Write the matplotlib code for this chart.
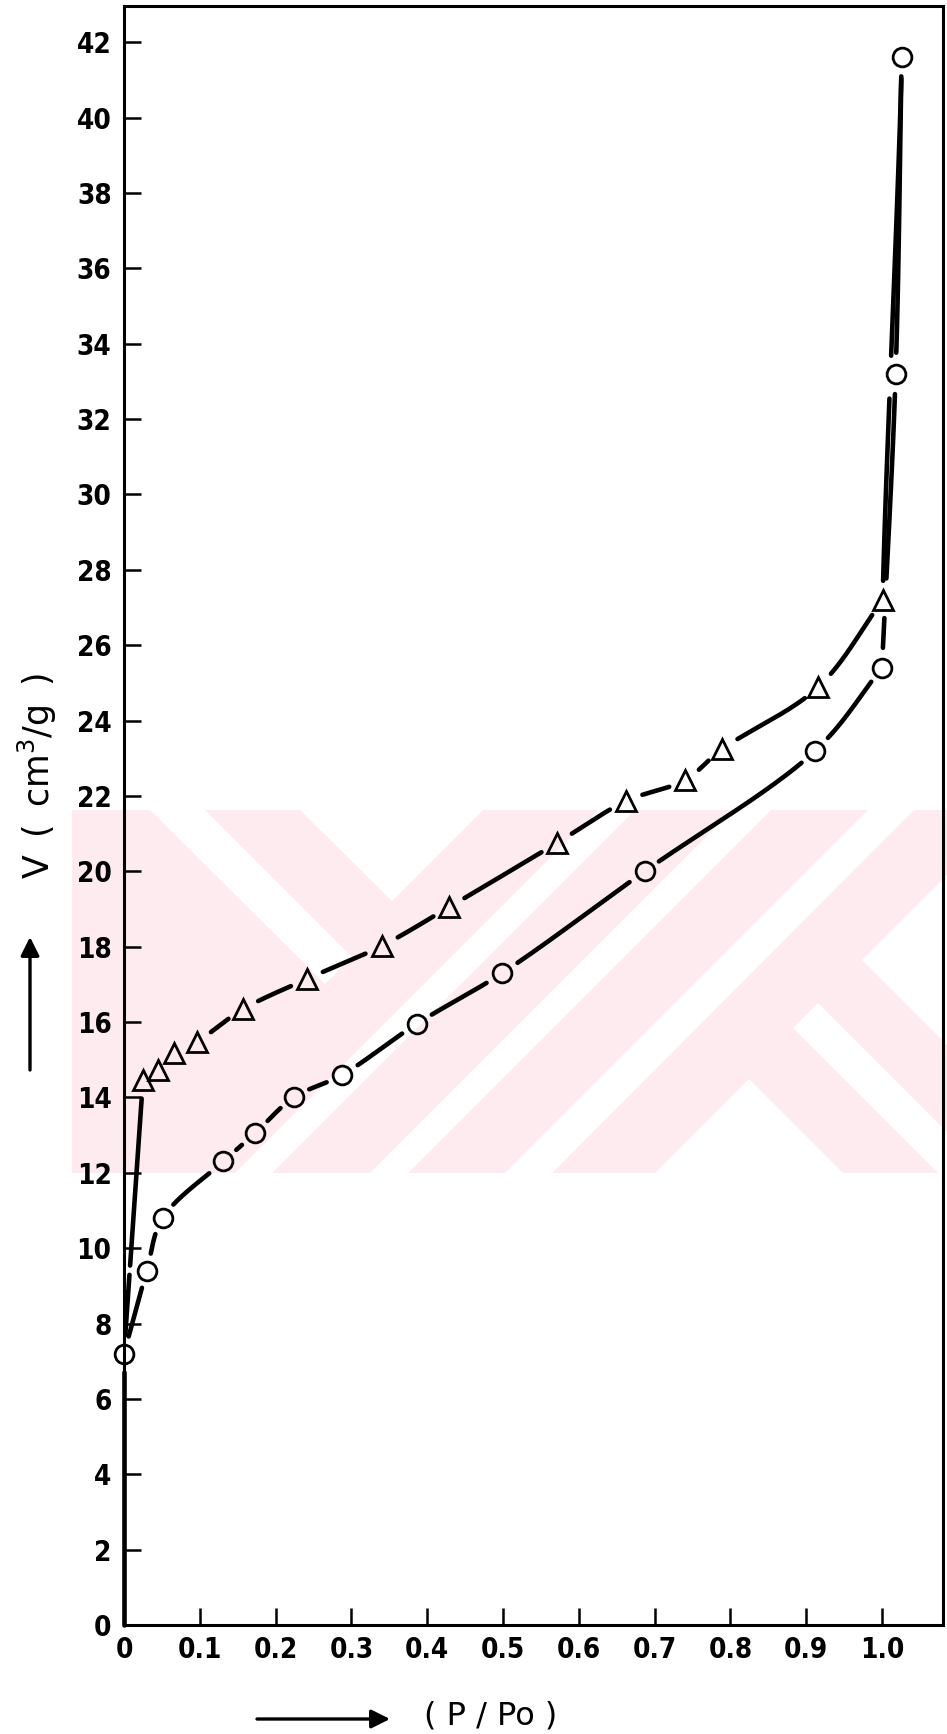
import numpy as np
import matplotlib
matplotlib.use('Agg')
import matplotlib.pyplot as plt
from matplotlib.patches import Polygon, Rectangle

# adsorption branch (open circles)
ads_x = [0.0, 0.030, 0.051, 0.131, 0.173, 0.224, 0.288, 0.386, 0.499,
         0.687, 0.912, 1.000, 1.018, 1.026]
ads_y = [7.2, 9.4, 10.8, 12.3, 13.05, 14.0, 14.6, 15.95, 17.3,
         20.0, 23.2, 25.4, 33.2, 41.6]

# desorption branch (open triangles)
des_x = [0.025, 0.045, 0.066, 0.096, 0.157, 0.241, 0.340, 0.429, 0.571,
         0.662, 0.740, 0.789, 0.916, 1.001]
des_y = [14.46, 14.73, 15.17, 15.47, 16.34, 17.14, 18.02, 19.05, 20.75,
         21.86, 22.42, 23.24, 24.89, 27.2]

x_ticks = [0, 0.1, 0.2, 0.3, 0.4, 0.5, 0.6, 0.7, 0.8, 0.9, 1.0]
x_tick_labels = ['0', '0.1', '0.2', '0.3', '0.4', '0.5', '0.6', '0.7',
                 '0.8', '0.9', '1.0']
y_ticks = list(range(0, 43, 2))
y_tick_labels = [str(v) for v in y_ticks]

plt.rcParams['font.family'] = ['DejaVu Sans']

fig = plt.figure(figsize=(9.47, 17.34), dpi=100)

# page layer in pixel units (watermark, arrows)
bg = fig.add_axes([0, 0, 1, 1], zorder=0)
bg.set_xlim(0, 947)
bg.set_ylim(1734, 0)
bg.axis('off')

pink = '#fdebef'
bg.add_patch(Rectangle((72, 810), 875, 363, color=pink, lw=0))
white_parts = [
    [(300, 810), (483, 810), (392, 901)],
    [(505, 1173), (552, 1173), (914, 810), (868, 810)],
    [(370, 1173), (408, 1173), (771, 810), (733, 810)],
    [(235, 1173), (272, 1173), (635, 810), (598, 810)],
    [(655, 1173), (843, 1173), (749, 1079)],
    [(862, 960), (947, 875), (947, 1045)],
    [(793, 1028), (818, 1003), (947, 1132), (947, 1173), (938, 1173)],
    [(150, 810), (205, 810), (352, 957), (325, 984)],
]
for pts in white_parts:
    bg.add_patch(Polygon(pts, closed=True, color='white', lw=0))

ax = fig.add_axes([124 / 947, 109 / 1734, 819 / 947, 1619 / 1734], zorder=1)
ax.patch.set_alpha(0)
ax.set_xlim(0, 1.0805)
ax.set_ylim(0, 42.96)

for s in ax.spines.values():
    s.set_linewidth(2.2)

ax.set_xticks(x_ticks, labels=x_tick_labels, fontsize=20, fontweight='bold',
              fontstretch='condensed')
ax.set_yticks(y_ticks, labels=y_tick_labels, fontsize=20, fontweight='bold',
              fontstretch='condensed')
ax.tick_params(direction='in', length=12, width=1.8)
ax.tick_params(axis='x', pad=8)
ax.tick_params(axis='y', pad=9)


def catmull_rom(pts, head=None, tail=None, n=60):
    pts = np.asarray(pts, dtype=float)
    if head is None:
        head = 2 * pts[0] - pts[1]
    if tail is None:
        tail = 2 * pts[-1] - pts[-2]
    p = np.vstack([head, pts, tail])
    out = []
    for i in range(1, len(p) - 2):
        p0, p1, p2, p3 = p[i - 1], p[i], p[i + 1], p[i + 2]
        t0 = 0.0
        t1 = t0 + np.linalg.norm(p1 - p0) ** 0.5
        t2 = t1 + np.linalg.norm(p2 - p1) ** 0.5
        t3 = t2 + np.linalg.norm(p3 - p2) ** 0.5
        t = np.linspace(t1, t2, n)[:, None]
        a1 = (t1 - t) / (t1 - t0) * p0 + (t - t0) / (t1 - t0) * p1
        a2 = (t2 - t) / (t2 - t1) * p1 + (t - t1) / (t2 - t1) * p2
        a3 = (t3 - t) / (t3 - t2) * p2 + (t - t2) / (t3 - t2) * p3
        b1 = (t2 - t) / (t2 - t0) * a1 + (t - t0) / (t2 - t0) * a2
        b2 = (t3 - t) / (t3 - t1) * a2 + (t - t1) / (t3 - t1) * a3
        out.append((t2 - t) / (t2 - t1) * b1 + (t - t1) / (t2 - t1) * b2)
    return np.vstack(out)


trans = ax.transData
marks = trans.transform(np.column_stack([ads_x + des_x, ads_y + des_y]))


def draw_piece(xs, ys, vertical_ends=False, gap=17):
    # smooth in pixel space, then cut the line open around every marker
    disp = trans.transform(np.column_stack([xs, ys]))
    head = tail = None
    if vertical_ends:
        head = disp[0] - [0, 120]
        tail = disp[-1] + [0, 120]
    curve = catmull_rom(disp, head, tail)
    d = np.min(np.hypot(curve[:, None, 0] - marks[None, :, 0],
                        curve[:, None, 1] - marks[None, :, 1]), axis=1)
    curve[d < gap] = np.nan
    back = trans.inverted().transform(curve)
    ax.plot(back[:, 0], back[:, 1], color='black', lw=3.3,
            solid_capstyle='round', clip_on=False, zorder=2)


# adsorption: straight rise from the origin, the smooth knee, the steep end
draw_piece([0.0, ads_x[0]], [0.0, ads_y[0]])
draw_piece(ads_x[:12], ads_y[:12])
draw_piece(ads_x[11:], ads_y[11:])

# desorption: leaves the first adsorption point, closes at the last one
draw_piece([ads_x[0], des_x[0]], [ads_y[0], des_y[0]])
draw_piece(des_x, des_y)
draw_piece([des_x[-1], ads_x[-1]], [des_y[-1], ads_y[-1]], vertical_ends=True)

ax.plot(ads_x, ads_y, linestyle='none', marker='o', markersize=13.5,
        markerfacecolor='none', markeredgecolor='black', markeredgewidth=2.0,
        clip_on=False, zorder=3)
ax.plot(des_x, des_y, linestyle='none', marker='^', markersize=15,
        markerfacecolor='none', markeredgecolor='black', markeredgewidth=2.0,
        clip_on=False, zorder=3)

sp = '\u2002'
fig.text(37 / 947, 1 - 776 / 1734, f'V{sp}({sp}cm$^3$/g{sp})', rotation=90,
         ha='center', va='center', fontsize=25)
fig.text(491 / 947, 1 - 1716 / 1734, '( P / Po )', ha='center', va='center',
         fontsize=23)

arrow = dict(arrowstyle='-|>', lw=2.4, color='black', mutation_scale=28,
             shrinkA=0, shrinkB=0)
bg.annotate('', xy=(30, 937), xytext=(30, 1070), arrowprops=arrow)
bg.annotate('', xy=(390, 1719), xytext=(257, 1719), arrowprops=arrow)

fig.savefig('out.png', dpi=100)
